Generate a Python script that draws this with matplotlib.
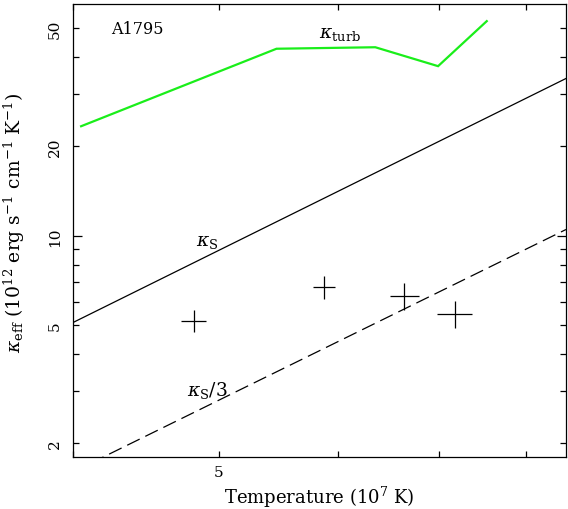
import numpy as np
import matplotlib; matplotlib.use("Agg")
import matplotlib.pyplot as plt
from matplotlib.ticker import FixedLocator, FixedFormatter, NullLocator

# data (T in 1e7 K, kappa in 1e12 erg/s/cm/K)
T_turb = [4.05, 5.46, 6.35, 6.99, 7.53]
k_turb = [23.4, 42.7, 43.2, 37.3, 52.9]
T_spitzer = [4.0, 8.5]
k_spitzer = [5.10, 33.9]
k_spitzer3 = [1.60, 10.5]
T_obs = [4.81, 5.87, 6.64, 7.17]
T_err = [0.095, 0.10, 0.15, 0.19]
k_obs = [5.17, 6.71, 6.28, 5.45]
k_err = [0.43, 0.60, 0.66, 0.57]

plt.rcParams["font.family"] = "DejaVu Serif"
plt.rcParams["mathtext.fontset"] = "dejavuserif"
plt.rcParams["lines.scale_dashes"] = False

fig = plt.figure(figsize=(5.68, 5.10), dpi=100)
ax = fig.add_axes([0.1285, 0.1025, 0.868, 0.888])
ax.set_xscale("log"); ax.set_yscale("log")

ax.plot(T_turb, k_turb, color="#1aee1a", lw=1.6, solid_joinstyle="miter")
ax.plot(T_spitzer, k_spitzer, color="k", lw=0.9)
ax.plot(T_spitzer, k_spitzer3, color="k", lw=0.9, dashes=(10, 4.5))
ax.errorbar(T_obs, k_obs, xerr=T_err, yerr=k_err, fmt="none", ecolor="k", elinewidth=0.9, capsize=0)

ax.set_xlim(4.0, 8.5); ax.set_ylim(1.8, 60.5)

# PGPLOT-like ticks: long tick at decades, short elsewhere, sparse labels
ax.xaxis.set_major_locator(NullLocator())
ax.xaxis.set_minor_locator(FixedLocator([4, 5, 6, 7, 8]))
ax.xaxis.set_minor_formatter(FixedFormatter(["", "5", "", "", ""]))
yminor = [2, 3, 4, 5, 6, 7, 8, 9, 20, 30, 40, 50]
ax.yaxis.set_major_locator(FixedLocator([10]))
ax.yaxis.set_major_formatter(FixedFormatter(["10"]))
ax.yaxis.set_minor_locator(FixedLocator(yminor))
ax.yaxis.set_minor_formatter(FixedFormatter(["2", "", "", "5", "", "", "", "", "20", "", "", "50"]))
ax.tick_params(which="both", direction="in", top=True, right=True, width=0.9, labelsize=11, colors="k")
ax.tick_params(which="major", length=6.5)
ax.tick_params(which="minor", length=4.3)
ax.tick_params(axis="x", which="both", pad=6)
ax.tick_params(axis="y", which="both", pad=8)
for lab in ax.get_yticklabels(which="both"):
    lab.set_rotation(90); lab.set_va("center")
for s in ax.spines.values():
    s.set_linewidth(0.9)

ax.text(0.077, 0.945, "A1795", transform=ax.transAxes, fontsize=11.5, va="center", ha="left")
ax.text(0.542, 0.935, r"$\kappa_{\rm turb}$", transform=ax.transAxes, fontsize=13.5, ha="center", va="center")
ax.text(0.272, 0.476, r"$\kappa_{\rm S}$", transform=ax.transAxes, fontsize=13.5, ha="center", va="center")
ax.text(0.272, 0.149, r"$\kappa_{\rm S}/3$", transform=ax.transAxes, fontsize=13.5, ha="center", va="center")

ax.set_xlabel(r"Temperature (10$^{7}$ K)", fontsize=13, va="top")
ax.xaxis.set_label_coords(0.5, -0.06)
ax.set_ylabel(r"$\kappa_{\rm eff}$ (10$^{12}$ erg s$^{-1}$ cm$^{-1}$ K$^{-1}$)", fontsize=13.5)
ax.yaxis.set_label_coords(-0.093, 0.52)

fig.savefig("out.png", dpi=100)
